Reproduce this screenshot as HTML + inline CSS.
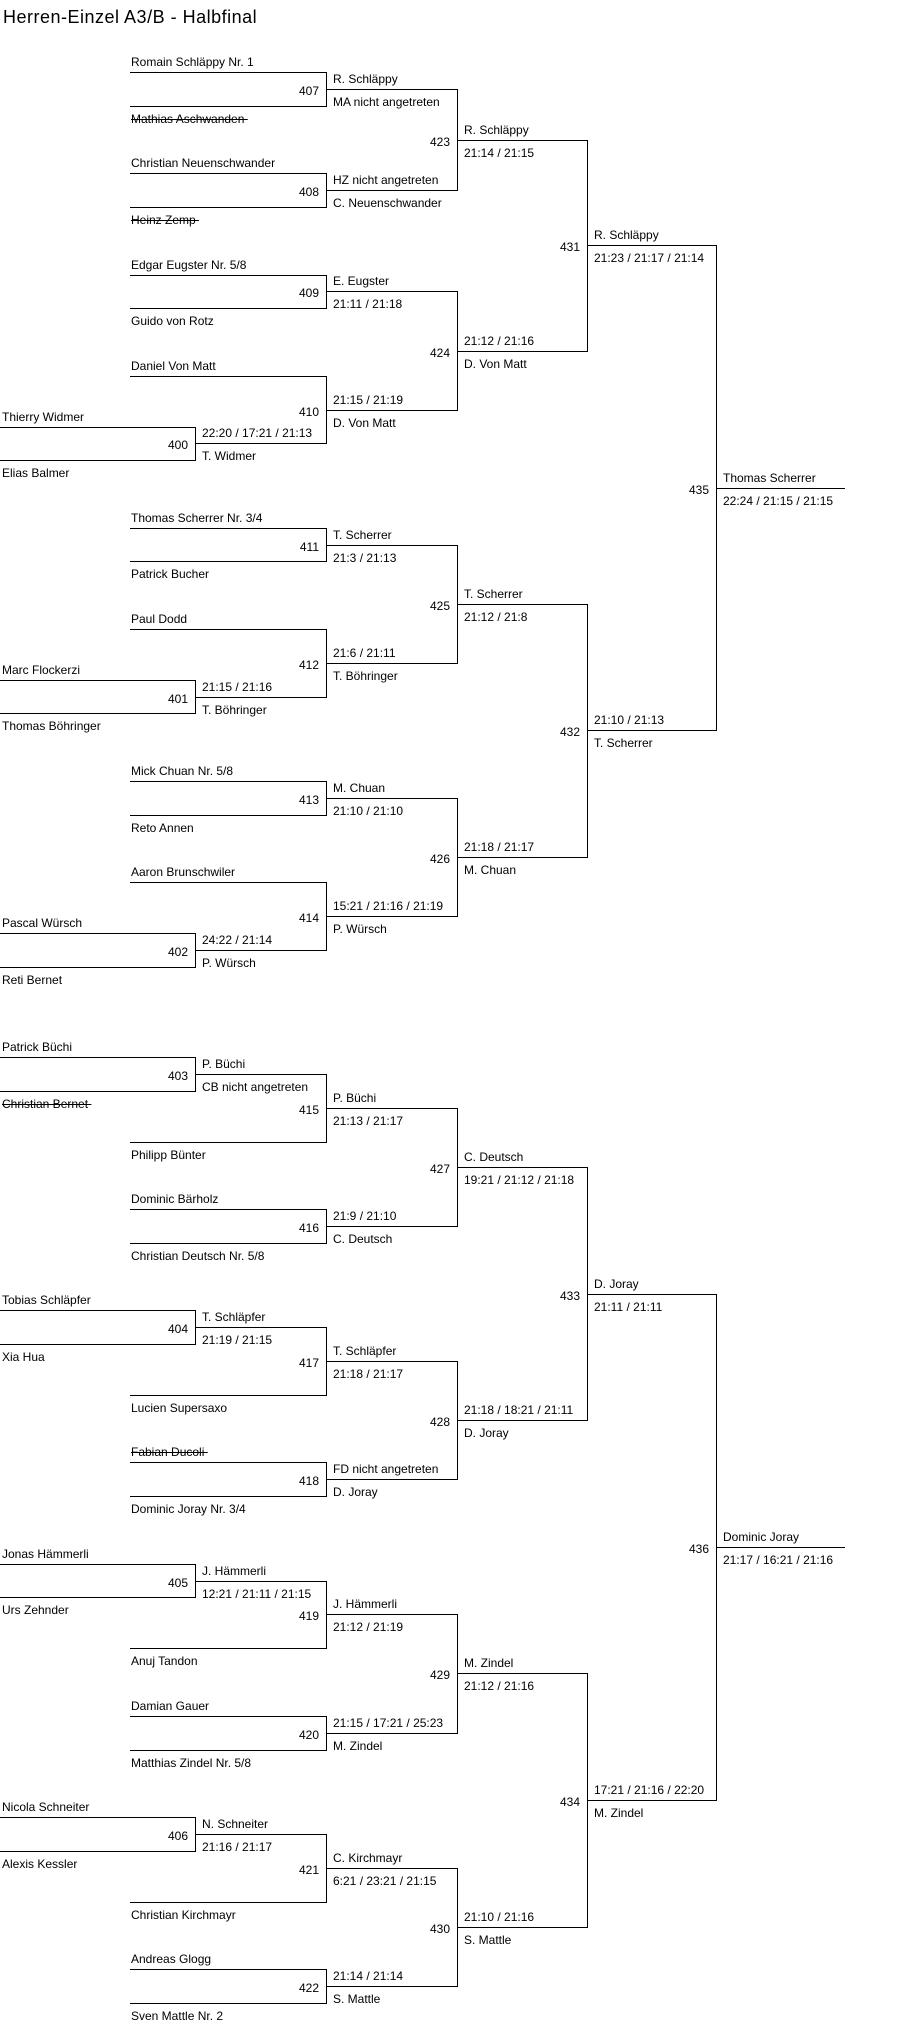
<!DOCTYPE html>
<html><head><meta charset="utf-8"><style>
html,body{margin:0;padding:0;background:#fff;width:913px;height:2031px;overflow:hidden;position:relative}
.h{position:absolute;height:1px;background:#000}
.v{position:absolute;width:1px;background:#000}
.t,.n{position:absolute;font:12px/12px "Liberation Sans",Arial,sans-serif;color:#000;white-space:nowrap}
.x{text-decoration:line-through}
.title{position:absolute;left:3px;top:7px;font:18px/20px "Liberation Sans",Arial,sans-serif;letter-spacing:0.5px;color:#000;white-space:nowrap}
</style></head><body>
<div class="title">Herren-Einzel A3/B - Halbfinal</div>

<div class="h" style="left:130px;top:72px;width:196px"></div><div class="t" style="left:131px;top:56px">Romain Schläppy Nr. 1</div>
<div class="h" style="left:130px;top:106px;width:196px"></div><div class="t x" style="left:131px;top:113px">Mathias Aschwanden&nbsp;</div>
<div class="h" style="left:130px;top:173px;width:196px"></div><div class="t" style="left:131px;top:157px">Christian Neuenschwander</div>
<div class="h" style="left:130px;top:207px;width:196px"></div><div class="t x" style="left:131px;top:214px">Heinz Zemp&nbsp;</div>
<div class="h" style="left:130px;top:275px;width:196px"></div><div class="t" style="left:131px;top:259px">Edgar Eugster Nr. 5/8</div>
<div class="h" style="left:130px;top:308px;width:196px"></div><div class="t" style="left:131px;top:315px">Guido von Rotz</div>
<div class="h" style="left:130px;top:376px;width:196px"></div><div class="t" style="left:131px;top:360px">Daniel Von Matt</div>
<div class="h" style="left:130px;top:528px;width:196px"></div><div class="t" style="left:131px;top:512px">Thomas Scherrer Nr. 3/4</div>
<div class="h" style="left:130px;top:561px;width:196px"></div><div class="t" style="left:131px;top:568px">Patrick Bucher</div>
<div class="h" style="left:130px;top:629px;width:196px"></div><div class="t" style="left:131px;top:613px">Paul Dodd</div>
<div class="h" style="left:130px;top:781px;width:196px"></div><div class="t" style="left:131px;top:765px">Mick Chuan Nr. 5/8</div>
<div class="h" style="left:130px;top:815px;width:196px"></div><div class="t" style="left:131px;top:822px">Reto Annen</div>
<div class="h" style="left:130px;top:882px;width:196px"></div><div class="t" style="left:131px;top:866px">Aaron Brunschwiler</div>
<div class="h" style="left:0;top:427px;width:195px"></div><div class="t" style="left:2px;top:411px">Thierry Widmer</div>
<div class="h" style="left:0;top:460px;width:195px"></div><div class="t" style="left:2px;top:467px">Elias Balmer</div>
<div class="h" style="left:0;top:680px;width:195px"></div><div class="t" style="left:2px;top:664px">Marc Flockerzi</div>
<div class="h" style="left:0;top:713px;width:195px"></div><div class="t" style="left:2px;top:720px">Thomas Böhringer</div>
<div class="h" style="left:0;top:933px;width:195px"></div><div class="t" style="left:2px;top:917px">Pascal Würsch</div>
<div class="h" style="left:0;top:967px;width:195px"></div><div class="t" style="left:2px;top:974px">Reti Bernet</div>

<div class="v" style="left:326px;top:72px;height:35px"></div><div class="h" style="left:326px;top:89px;width:131px"></div><div class="n" style="right:594px;top:85px">407</div><div class="t" style="left:333px;top:73px">R. Schläppy</div><div class="t" style="left:333px;top:96px">MA nicht angetreten</div>
<div class="v" style="left:326px;top:173px;height:35px"></div><div class="h" style="left:326px;top:190px;width:131px"></div><div class="n" style="right:594px;top:186px">408</div><div class="t" style="left:333px;top:174px">HZ nicht angetreten</div><div class="t" style="left:333px;top:197px">C. Neuenschwander</div>
<div class="v" style="left:326px;top:275px;height:34px"></div><div class="h" style="left:326px;top:291px;width:131px"></div><div class="n" style="right:594px;top:287px">409</div><div class="t" style="left:333px;top:275px">E. Eugster</div><div class="t" style="left:333px;top:298px">21:11 / 21:18</div>
<div class="v" style="left:195px;top:427px;height:34px"></div><div class="h" style="left:195px;top:443px;width:131px"></div><div class="n" style="right:725px;top:439px">400</div><div class="t" style="left:202px;top:427px">22:20 / 17:21 / 21:13</div><div class="t" style="left:202px;top:450px">T. Widmer</div>
<div class="v" style="left:326px;top:376px;height:68px"></div><div class="h" style="left:326px;top:410px;width:131px"></div><div class="n" style="right:594px;top:406px">410</div><div class="t" style="left:333px;top:394px">21:15 / 21:19</div><div class="t" style="left:333px;top:417px">D. Von Matt</div>
<div class="v" style="left:457px;top:89px;height:102px"></div><div class="h" style="left:457px;top:140px;width:130px"></div><div class="n" style="right:463px;top:136px">423</div><div class="t" style="left:464px;top:124px">R. Schläppy</div><div class="t" style="left:464px;top:147px">21:14 / 21:15</div>
<div class="v" style="left:457px;top:291px;height:120px"></div><div class="h" style="left:457px;top:351px;width:130px"></div><div class="n" style="right:463px;top:347px">424</div><div class="t" style="left:464px;top:335px">21:12 / 21:16</div><div class="t" style="left:464px;top:358px">D. Von Matt</div>
<div class="v" style="left:587px;top:140px;height:212px"></div><div class="h" style="left:587px;top:245px;width:129px"></div><div class="n" style="right:333px;top:241px">431</div><div class="t" style="left:594px;top:229px">R. Schläppy</div><div class="t" style="left:594px;top:252px">21:23 / 21:17 / 21:14</div>
<div class="v" style="left:326px;top:528px;height:34px"></div><div class="h" style="left:326px;top:545px;width:131px"></div><div class="n" style="right:594px;top:541px">411</div><div class="t" style="left:333px;top:529px">T. Scherrer</div><div class="t" style="left:333px;top:552px">21:3 / 21:13</div>
<div class="v" style="left:195px;top:680px;height:34px"></div><div class="h" style="left:195px;top:697px;width:131px"></div><div class="n" style="right:725px;top:693px">401</div><div class="t" style="left:202px;top:681px">21:15 / 21:16</div><div class="t" style="left:202px;top:704px">T. Böhringer</div>
<div class="v" style="left:326px;top:629px;height:69px"></div><div class="h" style="left:326px;top:663px;width:131px"></div><div class="n" style="right:594px;top:659px">412</div><div class="t" style="left:333px;top:647px">21:6 / 21:11</div><div class="t" style="left:333px;top:670px">T. Böhringer</div>
<div class="v" style="left:457px;top:545px;height:119px"></div><div class="h" style="left:457px;top:604px;width:130px"></div><div class="n" style="right:463px;top:600px">425</div><div class="t" style="left:464px;top:588px">T. Scherrer</div><div class="t" style="left:464px;top:611px">21:12 / 21:8</div>
<div class="v" style="left:326px;top:781px;height:35px"></div><div class="h" style="left:326px;top:798px;width:131px"></div><div class="n" style="right:594px;top:794px">413</div><div class="t" style="left:333px;top:782px">M. Chuan</div><div class="t" style="left:333px;top:805px">21:10 / 21:10</div>
<div class="v" style="left:195px;top:933px;height:35px"></div><div class="h" style="left:195px;top:950px;width:131px"></div><div class="n" style="right:725px;top:946px">402</div><div class="t" style="left:202px;top:934px">24:22 / 21:14</div><div class="t" style="left:202px;top:957px">P. Würsch</div>
<div class="v" style="left:326px;top:882px;height:69px"></div><div class="h" style="left:326px;top:916px;width:131px"></div><div class="n" style="right:594px;top:912px">414</div><div class="t" style="left:333px;top:900px">15:21 / 21:16 / 21:19</div><div class="t" style="left:333px;top:923px">P. Würsch</div>
<div class="v" style="left:457px;top:798px;height:119px"></div><div class="h" style="left:457px;top:857px;width:130px"></div><div class="n" style="right:463px;top:853px">426</div><div class="t" style="left:464px;top:841px">21:18 / 21:17</div><div class="t" style="left:464px;top:864px">M. Chuan</div>
<div class="v" style="left:587px;top:604px;height:254px"></div><div class="h" style="left:587px;top:730px;width:129px"></div><div class="n" style="right:333px;top:726px">432</div><div class="t" style="left:594px;top:714px">21:10 / 21:13</div><div class="t" style="left:594px;top:737px">T. Scherrer</div>
<div class="v" style="left:716px;top:245px;height:486px"></div><div class="h" style="left:716px;top:488px;width:129px"></div><div class="n" style="right:204px;top:484px">435</div><div class="t" style="left:723px;top:472px">Thomas Scherrer</div><div class="t" style="left:723px;top:495px">22:24 / 21:15 / 21:15</div>

<div class="h" style="left:130px;top:1142px;width:196px"></div><div class="t" style="left:131px;top:1149px">Philipp Bünter</div>
<div class="h" style="left:130px;top:1209px;width:196px"></div><div class="t" style="left:131px;top:1193px">Dominic Bärholz</div>
<div class="h" style="left:130px;top:1243px;width:196px"></div><div class="t" style="left:131px;top:1250px">Christian Deutsch Nr. 5/8</div>
<div class="h" style="left:130px;top:1395px;width:196px"></div><div class="t" style="left:131px;top:1402px">Lucien Supersaxo</div>
<div class="h" style="left:130px;top:1462px;width:196px"></div><div class="t x" style="left:131px;top:1446px">Fabian Ducoli&nbsp;</div>
<div class="h" style="left:130px;top:1496px;width:196px"></div><div class="t" style="left:131px;top:1503px">Dominic Joray Nr. 3/4</div>
<div class="h" style="left:130px;top:1648px;width:196px"></div><div class="t" style="left:131px;top:1655px">Anuj Tandon</div>
<div class="h" style="left:130px;top:1716px;width:196px"></div><div class="t" style="left:131px;top:1700px">Damian Gauer</div>
<div class="h" style="left:130px;top:1750px;width:196px"></div><div class="t" style="left:131px;top:1757px">Matthias Zindel Nr. 5/8</div>
<div class="h" style="left:130px;top:1902px;width:196px"></div><div class="t" style="left:131px;top:1909px">Christian Kirchmayr</div>
<div class="h" style="left:130px;top:1969px;width:196px"></div><div class="t" style="left:131px;top:1953px">Andreas Glogg</div>
<div class="h" style="left:130px;top:2003px;width:196px"></div><div class="t" style="left:131px;top:2010px">Sven Mattle Nr. 2</div>
<div class="h" style="left:0;top:1057px;width:195px"></div><div class="t" style="left:2px;top:1041px">Patrick Büchi</div>
<div class="h" style="left:0;top:1091px;width:195px"></div><div class="t x" style="left:2px;top:1098px">Christian Bernet&nbsp;</div>
<div class="h" style="left:0;top:1310px;width:195px"></div><div class="t" style="left:2px;top:1294px">Tobias Schläpfer</div>
<div class="h" style="left:0;top:1344px;width:195px"></div><div class="t" style="left:2px;top:1351px">Xia Hua</div>
<div class="h" style="left:0;top:1564px;width:195px"></div><div class="t" style="left:2px;top:1548px">Jonas Hämmerli</div>
<div class="h" style="left:0;top:1597px;width:195px"></div><div class="t" style="left:2px;top:1604px">Urs Zehnder</div>
<div class="h" style="left:0;top:1817px;width:195px"></div><div class="t" style="left:2px;top:1801px">Nicola Schneiter</div>
<div class="h" style="left:0;top:1851px;width:195px"></div><div class="t" style="left:2px;top:1858px">Alexis Kessler</div>

<div class="v" style="left:195px;top:1057px;height:35px"></div><div class="h" style="left:195px;top:1074px;width:131px"></div><div class="n" style="right:725px;top:1070px">403</div><div class="t" style="left:202px;top:1058px">P. Büchi</div><div class="t" style="left:202px;top:1081px">CB nicht angetreten</div>
<div class="v" style="left:326px;top:1074px;height:69px"></div><div class="h" style="left:326px;top:1108px;width:131px"></div><div class="n" style="right:594px;top:1104px">415</div><div class="t" style="left:333px;top:1092px">P. Büchi</div><div class="t" style="left:333px;top:1115px">21:13 / 21:17</div>
<div class="v" style="left:326px;top:1209px;height:35px"></div><div class="h" style="left:326px;top:1226px;width:131px"></div><div class="n" style="right:594px;top:1222px">416</div><div class="t" style="left:333px;top:1210px">21:9 / 21:10</div><div class="t" style="left:333px;top:1233px">C. Deutsch</div>
<div class="v" style="left:457px;top:1108px;height:119px"></div><div class="h" style="left:457px;top:1167px;width:130px"></div><div class="n" style="right:463px;top:1163px">427</div><div class="t" style="left:464px;top:1151px">C. Deutsch</div><div class="t" style="left:464px;top:1174px">19:21 / 21:12 / 21:18</div>
<div class="v" style="left:195px;top:1310px;height:35px"></div><div class="h" style="left:195px;top:1327px;width:131px"></div><div class="n" style="right:725px;top:1323px">404</div><div class="t" style="left:202px;top:1311px">T. Schläpfer</div><div class="t" style="left:202px;top:1334px">21:19 / 21:15</div>
<div class="v" style="left:326px;top:1327px;height:69px"></div><div class="h" style="left:326px;top:1361px;width:131px"></div><div class="n" style="right:594px;top:1357px">417</div><div class="t" style="left:333px;top:1345px">T. Schläpfer</div><div class="t" style="left:333px;top:1368px">21:18 / 21:17</div>
<div class="v" style="left:326px;top:1462px;height:35px"></div><div class="h" style="left:326px;top:1479px;width:131px"></div><div class="n" style="right:594px;top:1475px">418</div><div class="t" style="left:333px;top:1463px">FD nicht angetreten</div><div class="t" style="left:333px;top:1486px">D. Joray</div>
<div class="v" style="left:457px;top:1361px;height:119px"></div><div class="h" style="left:457px;top:1420px;width:130px"></div><div class="n" style="right:463px;top:1416px">428</div><div class="t" style="left:464px;top:1404px">21:18 / 18:21 / 21:11</div><div class="t" style="left:464px;top:1427px">D. Joray</div>
<div class="v" style="left:587px;top:1167px;height:254px"></div><div class="h" style="left:587px;top:1294px;width:129px"></div><div class="n" style="right:333px;top:1290px">433</div><div class="t" style="left:594px;top:1278px">D. Joray</div><div class="t" style="left:594px;top:1301px">21:11 / 21:11</div>
<div class="v" style="left:195px;top:1564px;height:34px"></div><div class="h" style="left:195px;top:1581px;width:131px"></div><div class="n" style="right:725px;top:1577px">405</div><div class="t" style="left:202px;top:1565px">J. Hämmerli</div><div class="t" style="left:202px;top:1588px">12:21 / 21:11 / 21:15</div>
<div class="v" style="left:326px;top:1581px;height:68px"></div><div class="h" style="left:326px;top:1614px;width:131px"></div><div class="n" style="right:594px;top:1610px">419</div><div class="t" style="left:333px;top:1598px">J. Hämmerli</div><div class="t" style="left:333px;top:1621px">21:12 / 21:19</div>
<div class="v" style="left:326px;top:1716px;height:35px"></div><div class="h" style="left:326px;top:1733px;width:131px"></div><div class="n" style="right:594px;top:1729px">420</div><div class="t" style="left:333px;top:1717px">21:15 / 17:21 / 25:23</div><div class="t" style="left:333px;top:1740px">M. Zindel</div>
<div class="v" style="left:457px;top:1614px;height:120px"></div><div class="h" style="left:457px;top:1673px;width:130px"></div><div class="n" style="right:463px;top:1669px">429</div><div class="t" style="left:464px;top:1657px">M. Zindel</div><div class="t" style="left:464px;top:1680px">21:12 / 21:16</div>
<div class="v" style="left:195px;top:1817px;height:35px"></div><div class="h" style="left:195px;top:1834px;width:131px"></div><div class="n" style="right:725px;top:1830px">406</div><div class="t" style="left:202px;top:1818px">N. Schneiter</div><div class="t" style="left:202px;top:1841px">21:16 / 21:17</div>
<div class="v" style="left:326px;top:1834px;height:69px"></div><div class="h" style="left:326px;top:1868px;width:131px"></div><div class="n" style="right:594px;top:1864px">421</div><div class="t" style="left:333px;top:1852px">C. Kirchmayr</div><div class="t" style="left:333px;top:1875px">6:21 / 23:21 / 21:15</div>
<div class="v" style="left:326px;top:1969px;height:35px"></div><div class="h" style="left:326px;top:1986px;width:131px"></div><div class="n" style="right:594px;top:1982px">422</div><div class="t" style="left:333px;top:1970px">21:14 / 21:14</div><div class="t" style="left:333px;top:1993px">S. Mattle</div>
<div class="v" style="left:457px;top:1868px;height:119px"></div><div class="h" style="left:457px;top:1927px;width:130px"></div><div class="n" style="right:463px;top:1923px">430</div><div class="t" style="left:464px;top:1911px">21:10 / 21:16</div><div class="t" style="left:464px;top:1934px">S. Mattle</div>
<div class="v" style="left:587px;top:1673px;height:255px"></div><div class="h" style="left:587px;top:1800px;width:129px"></div><div class="n" style="right:333px;top:1796px">434</div><div class="t" style="left:594px;top:1784px">17:21 / 21:16 / 22:20</div><div class="t" style="left:594px;top:1807px">M. Zindel</div>
<div class="v" style="left:716px;top:1294px;height:507px"></div><div class="h" style="left:716px;top:1547px;width:129px"></div><div class="n" style="right:204px;top:1543px">436</div><div class="t" style="left:723px;top:1531px">Dominic Joray</div><div class="t" style="left:723px;top:1554px">21:17 / 16:21 / 21:16</div>
</body></html>
